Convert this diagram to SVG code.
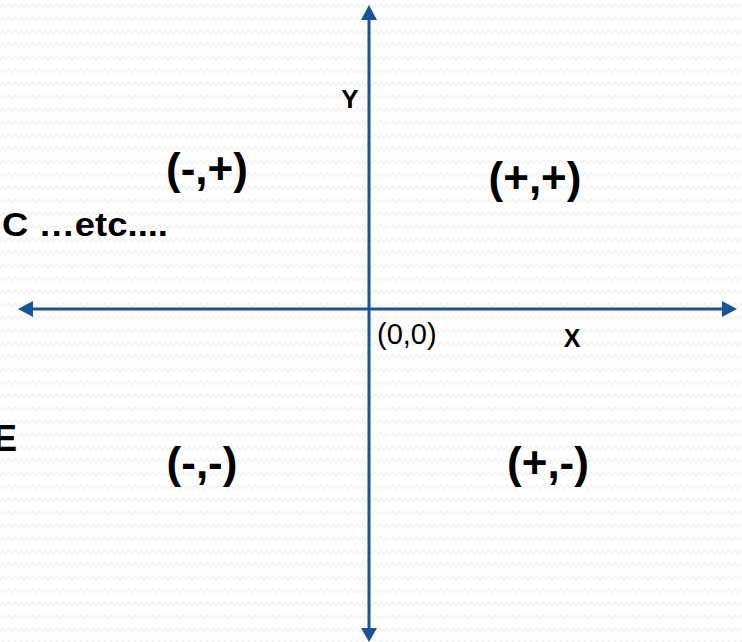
<svg xmlns="http://www.w3.org/2000/svg" width="742" height="642" viewBox="0 0 742 642">
  <style>
    .axis { stroke: #17559b; stroke-width: 3; fill: none; }
    .head { fill: #17559b; stroke: none; }
    .quad { font-family: "Liberation Sans", Arial, sans-serif; font-weight: bold; font-size: 44px; fill: #000; text-anchor: middle; }
    .lbl { font-family: "Liberation Sans", Arial, sans-serif; font-weight: bold; fill: #000; }
    .orig { font-family: "Liberation Sans", Arial, sans-serif; font-size: 29px; fill: #000; }
  </style>
  <defs>
    <pattern id="bg" width="12" height="13" patternUnits="userSpaceOnUse">
      <path d="M0,8 L3,4 L6,8 L9,4 L12,8" stroke="#f3f3f3" stroke-width="1.5" fill="none"/>
    </pattern>
  </defs>
  <rect width="742" height="642" fill="#ffffff"/>
  <rect width="742" height="642" fill="url(#bg)"/>

  <g id="connectors">
    <line class="axis" x1="369" y1="18" x2="369" y2="630"/>
    <line class="axis" x1="30" y1="309" x2="724" y2="309"/>
    <polygon class="head" points="369,5 361,20 377,20"/>
    <polygon class="head" points="369,642 361,628 377,628"/>
    <polygon class="head" points="18,309 33,301 33,317"/>
    <polygon class="head" points="737,309 722,301 722,317"/>
  </g>

  <g id="label-y"><text class="lbl" x="350" y="108" font-size="26" text-anchor="middle">Y</text></g>
  <g id="label-x"><text class="lbl" x="572" y="347" font-size="25" text-anchor="middle">X</text></g>
  <g id="origin"><text class="orig" x="377" y="344">(0,0)</text></g>

  <g id="q2"><text class="quad" x="207" y="184">(-,+)</text></g>
  <g id="q1"><text class="quad" x="535" y="193">(+,+)</text></g>
  <g id="q3"><text class="quad" x="202" y="478">(-,-)</text></g>
  <g id="q4"><text class="quad" x="548" y="478">(+,-)</text></g>

  <g id="text-c"><text class="lbl" x="2" y="236" font-size="34" textLength="166" lengthAdjust="spacingAndGlyphs">C …etc....</text></g>
  <g id="text-e"><text class="lbl" x="-7" y="451" font-size="36">E</text></g>
</svg>
